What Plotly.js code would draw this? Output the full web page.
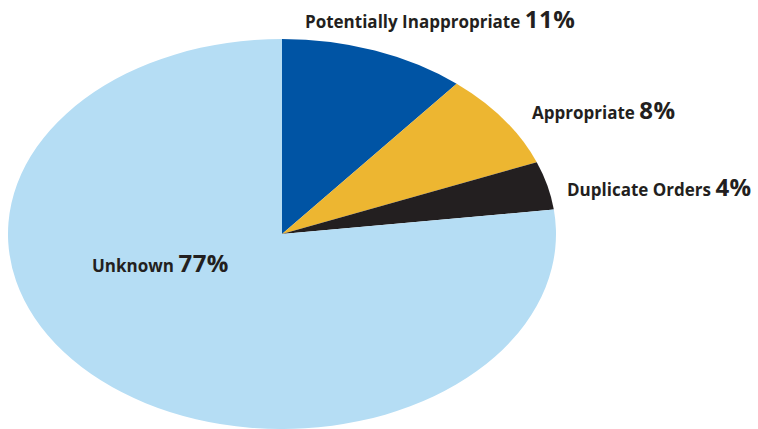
<!DOCTYPE html>
<html><head><meta charset="utf-8">
<script src="https://cdn.plot.ly/plotly-3.0.1.min.js"></script>
<style>body{margin:0;background:#fff}</style>
</head><body>
<div id="chart" style="width:758px;height:429px"></div>
<script>
const categories = ["Potentially Inappropriate", "Appropriate", "Duplicate Orders", "Unknown"];
const values = [11, 8, 4, 77];
const colors = ["#0054A4", "#EDB631", "#231F20", "#B5DDF4"];
const labelPos = [[303, 19], [530, 110], [565, 186], [90, 262]];

const W = 758, H = 429;
const cx = 282, cy = 234, ry = 195, rx = 274;

const annotations = categories.map((c, i) => ({
  xref: "paper", yref: "paper",
  x: labelPos[i][0] / W, y: 1 - labelPos[i][1] / H,
  xanchor: "left", yanchor: "middle", showarrow: false,
  text: "<b>" + c + " <span style='font-size:24px;letter-spacing:0.5px'>" + values[i] + "%</span></b>",
  font: {family: "Open Sans, sans-serif", size: 17, color: "#231F20"}
}));

Plotly.newPlot("chart", [{
  type: "pie", labels: categories, values: values, sort: false,
  direction: "clockwise", rotation: 0,
  marker: {colors: colors, line: {width: 0}},
  textinfo: "none", hoverinfo: "none",
  domain: {x: [(cx - ry) / W, (cx + ry) / W], y: [(H - (cy + ry)) / H, (H - (cy - ry)) / H]}
}], {
  width: W, height: H, margin: {l: 0, r: 0, t: 0, b: 0},
  showlegend: false, paper_bgcolor: "#fff",
  annotations: annotations
}, {staticPlot: true}).then(() => {
  const layer = document.querySelector(".pielayer");
  if (layer) layer.setAttribute("transform",
    `translate(${cx},${cy}) scale(${rx / ry},1) translate(${-cx},${-cy})`);
});
</script>
</body></html>
